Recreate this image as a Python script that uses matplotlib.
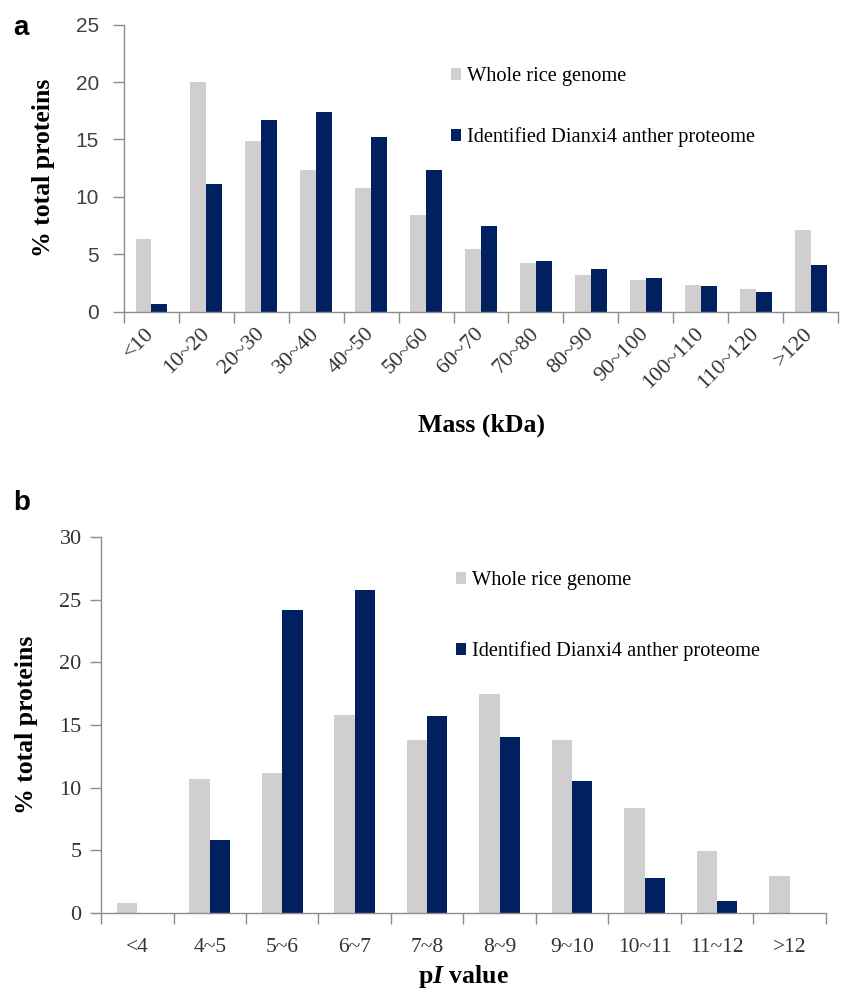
import numpy as np
import matplotlib
matplotlib.use("Agg")
import matplotlib.pyplot as plt

plt.rcParams["mathtext.fontset"] = "custom"
plt.rcParams["mathtext.it"] = "Liberation Serif:italic:bold"

# 数据：分子量分布 (a)
mass_bins = ["<10", "10~20", "20~30", "30~40", "40~50", "50~60", "60~70",
             "70~80", "80~90", "90~100", "100~110", "110~120", ">120"]
mass_genome = [6.3, 20.0, 14.9, 12.3, 10.8, 8.4, 5.5, 4.2, 3.2, 2.8, 2.3, 2.0, 7.1]
mass_anther = [0.7, 11.1, 16.7, 17.4, 15.2, 12.3, 7.5, 4.4, 3.7, 2.9, 2.2, 1.7, 4.1]

# 数据：等电点分布 (b)
pi_bins = ["<4", "4~5", "5~6", "6~7", "7~8", "8~9", "9~10", "10~11", "11~12", ">12"]
pi_genome = [0.75, 10.7, 11.2, 15.8, 13.8, 17.5, 13.8, 8.4, 4.9, 2.9]
pi_anther = [0.0, 5.8, 24.2, 25.8, 15.7, 14.0, 10.5, 2.8, 0.9, 0.0]

legend_labels = ["Whole rice genome", "Identified Dianxi4 anther proteome"]
GRAY = "#d0cece"
NAVY = "#002060"
SPINE = "#8c8c8c"
SERIF = "Liberation Serif"


def draw_panel(ax, cats, genome, anther, width, ymax):
    x = np.arange(len(cats))
    ax.bar(x - width / 2, genome, width, color=GRAY, label=legend_labels[0])
    ax.bar(x + width / 2, anther, width, color=NAVY, label=legend_labels[1])
    ax.set_xlim(-0.5, len(cats) - 0.5)
    ax.set_ylim(0, ymax)
    ax.set_yticks(np.arange(0, ymax + 1, 5))
    # 刻度线在类别边界，标签在类别中心
    ax.set_xticks(np.arange(len(cats) + 1) - 0.5)
    ax.set_xticklabels([])
    ax.set_xticks(x, minor=True)
    ax.tick_params(axis="x", which="major", length=8, color=SPINE, width=1.0)
    ax.tick_params(axis="y", length=8, color=SPINE, width=1.0)
    for s in ["top", "right"]:
        ax.spines[s].set_visible(False)
    for s in ["left", "bottom"]:
        ax.spines[s].set_color(SPINE)
        ax.spines[s].set_linewidth(1.0)
    return x


fig = plt.figure(figsize=(8.42, 9.9), dpi=100)

# ---- 面板 a ----
ax1 = fig.add_axes([0.1473, 0.6852, 0.848, 0.2899])
x1 = draw_panel(ax1, mass_bins, mass_genome, mass_anther, 0.29, 25)
ax1.set_xticklabels(mass_bins, minor=True, rotation=45, ha="right",
                    rotation_mode="anchor", va="center",
                    fontfamily=SERIF, fontsize=16, color="#333333")
ax1.tick_params(axis="x", which="minor", length=0, pad=14)
for t in ax1.get_yticklabels():
    t.set_fontfamily("Liberation Sans")
    t.set_fontsize(15)
    t.set_color("#404040")
ax1.tick_params(axis="y", pad=10)
ax1.set_ylabel("% total proteins", fontfamily=SERIF, fontweight="bold", fontsize=18.5)
ax1.yaxis.set_label_coords(-0.0966, 0.5)
ax1.set_xlabel("Mass (kDa)", fontfamily=SERIF, fontweight="bold", fontsize=18.5, va="center")
ax1.xaxis.set_label_coords(0.5, -0.395)
ax1.legend(loc="upper left", bbox_to_anchor=(0.458, 0.851), frameon=False,
           prop={"family": SERIF, "size": 14.7}, handlelength=0.5, handleheight=0.5,
           handletextpad=0.3, labelspacing=2.0, borderpad=0, borderaxespad=0)

# ---- 面板 b ----
ax2 = fig.add_axes([0.12, 0.0781, 0.8607, 0.3792])
x2 = draw_panel(ax2, pi_bins, pi_genome, pi_anther, 0.28, 30)
ax2.set_xticklabels(pi_bins, minor=True, fontfamily=SERIF, fontsize=15.5, color="#333333")
ax2.tick_params(axis="x", which="minor", length=0, pad=18)
for t in ax2.get_yticklabels():
    t.set_fontfamily(SERIF)
    t.set_fontsize(16)
    t.set_color("#333333")
ax2.tick_params(axis="y", pad=6)
ax2.set_ylabel("% total proteins", fontfamily=SERIF, fontweight="bold", fontsize=18.5)
ax2.yaxis.set_label_coords(-0.087, 0.5)
ax2.set_xlabel(r"p$\it{I}$ value", fontfamily=SERIF, fontweight="bold", fontsize=18.5, va="center")
ax2.xaxis.set_label_coords(0.5, -0.171)
ax2.legend(loc="upper left", bbox_to_anchor=(0.49, 0.909), frameon=False,
           prop={"family": SERIF, "size": 14.7}, handlelength=0.5, handleheight=0.5,
           handletextpad=0.3, labelspacing=2.5, borderpad=0, borderaxespad=0)

fig.text(0.016, 0.985, "a", fontfamily="Liberation Sans", fontweight="bold", fontsize=20, va="top")
fig.text(0.016, 0.505, "b", fontfamily="Liberation Sans", fontweight="bold", fontsize=20, va="top")

fig.savefig("out.png", dpi=100)
